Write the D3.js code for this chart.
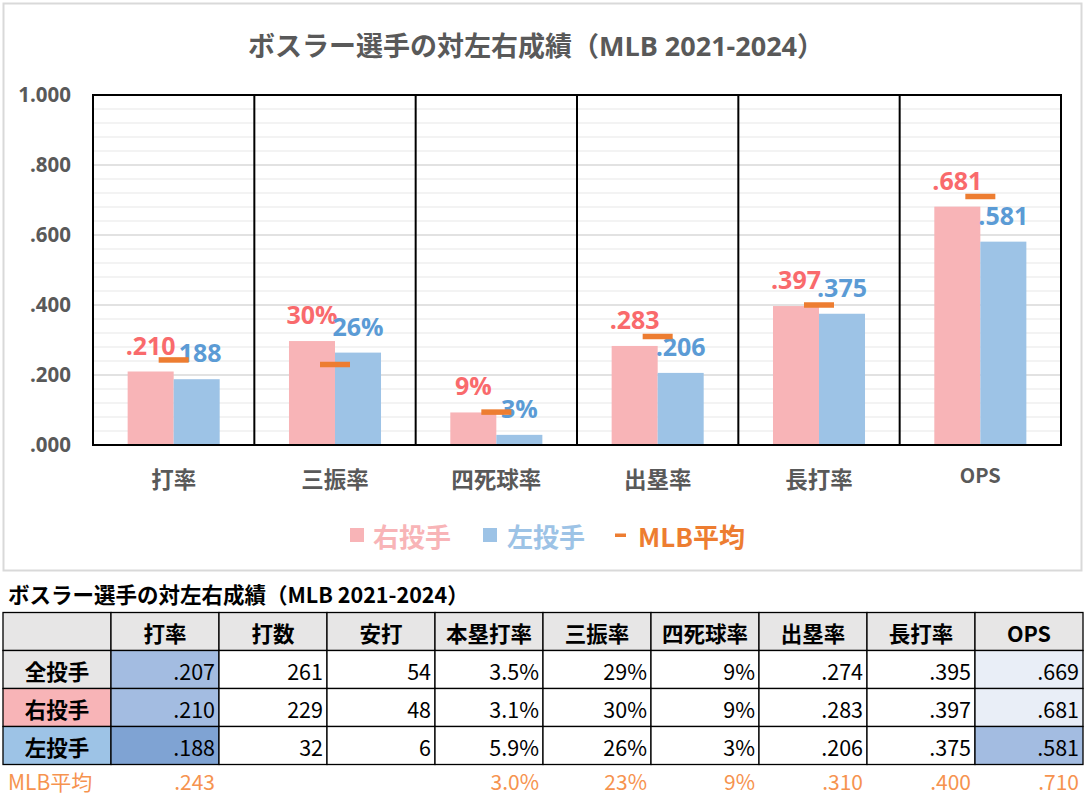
<!DOCTYPE html>
<html><head><meta charset="utf-8">
<script src="https://cdn.jsdelivr.net/npm/d3@7"></script>
<style>
html,body{margin:0;padding:0;background:#fff;}
svg{display:block;}
</style></head>
<body>
<svg id="chart" width="1085" height="797"></svg>
<script>
// ---- chart data ----
const categories = ["打率","三振率","四死球率","出塁率","長打率","OPS"];
const rightValues = [0.210, 0.297, 0.093, 0.283, 0.397, 0.681];
const leftValues  = [0.188, 0.264, 0.029, 0.206, 0.375, 0.581];
const mlbValues   = [0.243, 0.230, 0.094, 0.310, 0.400, 0.710];
const percentCats = ["三振率","四死球率"];
const yTicks = [0, 0.2, 0.4, 0.6, 0.8, 1.0];
const yTickLabels = [".000", ".200", ".400", ".600", ".800", "1.000"];
const seriesNames = ["右投手", "左投手"];
const mlbName = "MLB平均";
const chartTitle = "ボスラー選手の対左右成績（MLB 2021-2024）";

// ---- table data ----
const tableTitle = "ボスラー選手の対左右成績（MLB 2021-2024）";
const tableHeaders = ["", "打率", "打数", "安打", "本塁打率", "三振率", "四死球率", "出塁率", "長打率", "OPS"];
const rowLabels = ["全投手", "右投手", "左投手"];
const rowAll   = [".207", "261", "54", "3.5%", "29%", "9%", ".274", ".395", ".669"];
const rowRight = [".210", "229", "48", "3.1%", "30%", "9%", ".283", ".397", ".681"];
const rowLeft  = [".188", "32", "6", "5.9%", "26%", "3%", ".206", ".375", ".581"];
const rowMLB   = [".243", "", "", "3.0%", "23%", "9%", ".310", ".400", ".710"];

// ---- styles ----
const C = {
  pink: "#f8b4b7", blue: "#9dc3e6", orange: "#ed7d31",
  pinkLabel: "#f96a6c", blueLabel: "#5b9bd5",
  gray: "#595959", gridMajor: "#d9d9d9", gridMinor: "#efefef",
  headerBg: "#e7e6e6", mlbRow: "#f6934f"
};
const latin = "'Open Sans','Noto Sans CJK JP',sans-serif";
const jp = "'Noto Sans CJK JP','Open Sans',sans-serif";

const svg = d3.select("#chart");

// chart frame
svg.append("rect").attr("x", 3.5).attr("y", 3.5).attr("width", 1078).attr("height", 567)
  .attr("fill", "#fff").attr("stroke", "#d9d9d9").attr("stroke-width", 2);

svg.append("text").attr("x", 536).attr("y", 45).attr("text-anchor", "middle")
  .attr("dominant-baseline", "central")
  .attr("font-family", latin).attr("font-weight", "bold").attr("font-size", 27)
  .attr("fill", C.gray).text(chartTitle);

const L = 93, R = 1061, T = 95, B = 445;
const x = d3.scaleBand().domain(categories).range([L, R]).paddingInner(0).paddingOuter(0);
const xs = d3.scaleBand().domain(seriesNames).range([0, x.bandwidth()]).paddingInner(0).paddingOuter(0.753);
const y = d3.scaleLinear().domain([0, 1]).range([B, T]);

// gridlines
const minor = d3.range(1, 25).map(i => i * 0.04).filter(v => Math.abs(v / 0.2 - Math.round(v / 0.2)) > 1e-6);
svg.append("g").selectAll("line").data(minor).join("line")
  .attr("x1", L).attr("x2", R).attr("y1", d => y(d)).attr("y2", d => y(d))
  .attr("stroke", C.gridMinor).attr("stroke-width", 1.5);
svg.append("g").selectAll("line").data(yTicks.slice(1, -1)).join("line")
  .attr("x1", L).attr("x2", R).attr("y1", d => y(d)).attr("y2", d => y(d))
  .attr("stroke", C.gridMajor).attr("stroke-width", 1.5);

// bars
const data = categories.map((c, i) => ({ c, vals: [rightValues[i], leftValues[i]], mlb: mlbValues[i] }));
const groups = svg.append("g").selectAll("g").data(data).join("g")
  .attr("transform", d => `translate(${x(d.c)},0)`);
groups.selectAll("rect").data(d => d.vals.map((v, j) => ({ s: seriesNames[j], v, j })))
  .join("rect")
  .attr("x", d => xs(d.s)).attr("width", xs.bandwidth())
  .attr("y", d => y(d.v)).attr("height", d => B - y(d.v))
  .attr("fill", d => d.j === 0 ? C.pink : C.blue);

// dividers and frame
svg.append("g").selectAll("line").data(categories.slice(1)).join("line")
  .attr("x1", d => x(d)).attr("x2", d => x(d)).attr("y1", T).attr("y2", B)
  .attr("stroke", "#000").attr("stroke-width", 2);
svg.append("rect").attr("x", L).attr("y", T).attr("width", R - L).attr("height", B - T)
  .attr("fill", "none").attr("stroke", "#000").attr("stroke-width", 2);

// MLB markers
svg.append("g").selectAll("rect").data(data).join("rect")
  .attr("x", d => x(d.c) + x.bandwidth() / 2 - 15).attr("width", 30)
  .attr("y", d => y(d.mlb) - 2.75).attr("height", 5.5)
  .attr("fill", C.orange);

// value labels
const fmt = (c, v) => percentCats.includes(c) ? d3.format(".0%")(v) : d3.format(".3f")(v).replace(/^0/, "");
groups.selectAll("text").data(d => d.vals.map((v, j) => ({ c: d.c, s: seriesNames[j], v, j })))
  .join("text")
  .attr("x", d => xs(d.s) + xs.bandwidth() / 2)
  .attr("y", d => y(d.v) - 17)
  .attr("text-anchor", "middle")
  .attr("font-family", latin).attr("font-weight", "bold").attr("font-size", 25)
  .attr("fill", d => d.j === 0 ? C.pinkLabel : C.blueLabel)
  .text(d => fmt(d.c, d.v));

// y axis
const yAxis = svg.append("g").attr("transform", `translate(${L},0)`)
  .call(d3.axisLeft(y).tickValues(yTicks).tickFormat((d, i) => yTickLabels[i]).tickSize(0).tickPadding(22));
yAxis.select(".domain").remove();
yAxis.selectAll("text").attr("font-family", latin).attr("font-weight", "bold")
  .attr("font-size", 20.5).attr("fill", C.gray);

// x axis
const xAxis = svg.append("g").attr("transform", `translate(0,${B})`)
  .call(d3.axisBottom(x).tickSize(0).tickPadding(0));
xAxis.select(".domain").remove();
xAxis.selectAll("text").attr("y", 35).attr("dy", "0.35em")
  .attr("font-family", jp).attr("font-weight", "bold")
  .attr("font-size", d => d === "OPS" ? 20 : 22.5).attr("fill", C.gray)
  .attr("transform", d => d === "OPS" ? "translate(0,-4)" : null);

// legend
const lg = svg.append("g").attr("font-family", jp).attr("font-weight", "bold").attr("font-size", 26);
const legendItems = [
  { label: seriesNames[0], color: C.pink, sx: 350, tx: 373, type: "sq" },
  { label: seriesNames[1], color: C.blue, sx: 483, tx: 507, type: "sq" },
  { label: mlbName, color: C.orange, sx: 615, tx: 638, type: "dash" }
];
legendItems.forEach(it => {
  if (it.type === "sq") {
    lg.append("rect").attr("x", it.sx).attr("y", 528).attr("width", 14).attr("height", 14).attr("fill", it.color);
  } else {
    lg.append("rect").attr("x", it.sx).attr("y", 533.5).attr("width", 11).attr("height", 3.5).attr("fill", it.color);
  }
  lg.append("text").attr("x", it.tx).attr("y", 535).attr("dominant-baseline", "central")
    .attr("fill", it.color).text(it.label);
});

// ---- table ----
svg.append("text").attr("x", 8).attr("y", 593).attr("dominant-baseline", "central")
  .attr("font-family", jp).attr("font-weight", "bold").attr("font-size", 21.5).attr("fill", "#000")
  .text(tableTitle);

const colX = d3.scaleBand().domain(d3.range(tableHeaders.length)).range([3, 1083]);
const rowY = d3.scaleBand().domain(d3.range(4)).range([612.5, 764.5]);
const cw = colX.bandwidth(), rh = rowY.bandwidth();

const dataRows = [rowAll, rowRight, rowLeft];
const cellFill = (r, c) => {
  if (r === 0) return C.headerBg;
  if (c === 0) return [C.headerBg, C.pink, C.blue][r - 1];
  if (c === 1) return r === 3 ? "#7fa3d3" : "#a3bce1";
  if (c === 9) return r === 3 ? "#a3bce1" : "#e9eef7";
  return "#fff";
};
const cells = [];
for (let r = 0; r < 4; r++) {
  for (let c = 0; c < tableHeaders.length; c++) {
    let t, bold = false, anchor = "end";
    if (r === 0) { t = tableHeaders[c]; bold = true; anchor = "middle"; }
    else if (c === 0) { t = rowLabels[r - 1]; bold = true; anchor = "middle"; }
    else t = dataRows[r - 1][c - 1];
    cells.push({ r, c, t, bold, anchor });
  }
}
const tg = svg.append("g");
tg.selectAll("rect").data(cells).join("rect")
  .attr("x", d => colX(d.c)).attr("y", d => rowY(d.r)).attr("width", cw).attr("height", rh)
  .attr("fill", d => cellFill(d.r, d.c)).attr("stroke", "#000").attr("stroke-width", 1.3);
tg.selectAll("text").data(cells).join("text")
  .attr("x", d => d.anchor === "middle" ? colX(d.c) + cw / 2 : colX(d.c) + cw - 4)
  .attr("y", d => rowY(d.r) + rh / 2 + 1)
  .attr("dominant-baseline", "central").attr("text-anchor", d => d.anchor)
  .attr("font-family", jp).attr("font-weight", d => d.bold ? "bold" : "normal")
  .attr("font-size", 21.5).attr("fill", "#000")
  .text(d => d.t);

// MLB row
const mg = svg.append("g").attr("font-family", jp).attr("font-size", 21).attr("fill", C.mlbRow);
mg.append("text").attr("x", 8).attr("y", 781).attr("dominant-baseline", "central").text(mlbName);
mg.selectAll("text.v").data(rowMLB.map((t, i) => ({ t, c: i + 1 }))).join("text").attr("class", "v")
  .attr("x", d => colX(d.c) + cw - 4).attr("y", 781).attr("dominant-baseline", "central")
  .attr("text-anchor", "end").text(d => d.t);
</script>
</body></html>
